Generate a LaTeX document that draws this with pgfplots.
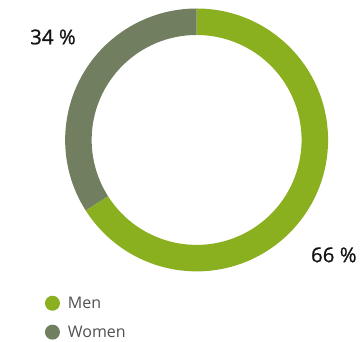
\documentclass[border=0pt]{standalone}
\usepackage{pgfplots}
\pgfplotsset{compat=1.18}
\usepackage{pgfplotstable}
\usepackage{fontspec}
\setmainfont{Open Sans}
\newfontfamily\labelfont{Open Sans}[FakeBold=0.8]
\definecolor{mengreen}{RGB}{138,176,32}
\definecolor{womengray}{RGB}{114,126,96}
\definecolor{textgray}{RGB}{80,80,80}
\pgfplotstableread{
label value
Men 66
Women 34
}\sharedata
\pgfplotstablegetelem{0}{value}\of\sharedata \let\menval\pgfplotsretval
\pgfplotstablegetelem{1}{value}\of\sharedata \let\womenval\pgfplotsretval
\pgfmathsetmacro\angA{90-3.6*\menval}
\pgfmathsetmacro\angB{\angA-3.6*\womenval}
\def\ri{0.7985}
\begin{document}
\begin{tikzpicture}
\begin{axis}[
  x=131.5pt, y=131.5pt,
  xmin=-1.4958, xmax=1.2418, ymin=-1.5361, ymax=1.0646,
  hide axis, clip=false,
  legend style={draw=none, fill=none, at={(axis description cs:0.1244,0.1383)}, anchor=north west,
    font=\fontsize{16}{19}\selectfont\color{textgray}, row sep=12pt, inner sep=0pt,
    nodes={inner sep=2pt}},
  legend cell align=left,
  legend image code/.code={\fill (0pt,0pt) circle (7.5pt); \path (-7.5pt,0pt) (13.5pt,0pt);},
]
\path (rel axis cs:0,0) rectangle (rel axis cs:1,1);
\fill[mengreen] (axis cs:0,1) arc[start angle=90, end angle=\angA, radius=131.5pt]
  -- (axis cs:{\ri*cos(\angA)},{\ri*sin(\angA)}) arc[start angle=\angA, end angle=90, radius=105pt] -- cycle;
\fill[womengray] (axis cs:{cos(\angA)},{sin(\angA)}) arc[start angle=\angA, end angle=\angB, radius=131.5pt]
  -- (axis cs:0,\ri) arc[start angle=\angB, end angle=\angA, radius=105pt] -- cycle;
\addlegendimage{fill=mengreen, draw=none}
\addlegendentry{Men}
\addlegendimage{fill=womengray, draw=none}
\addlegendentry{Women}
\node[font=\labelfont\fontsize{20.5}{24}\selectfont, text=black!92] at (axis cs:-1.0928,0.7833) {34 \%};
\node[font=\labelfont\fontsize{20.5}{24}\selectfont, text=black!92] at (axis cs:1.0441,-0.8745) {66 \%};
\end{axis}
\end{tikzpicture}
\end{document}
